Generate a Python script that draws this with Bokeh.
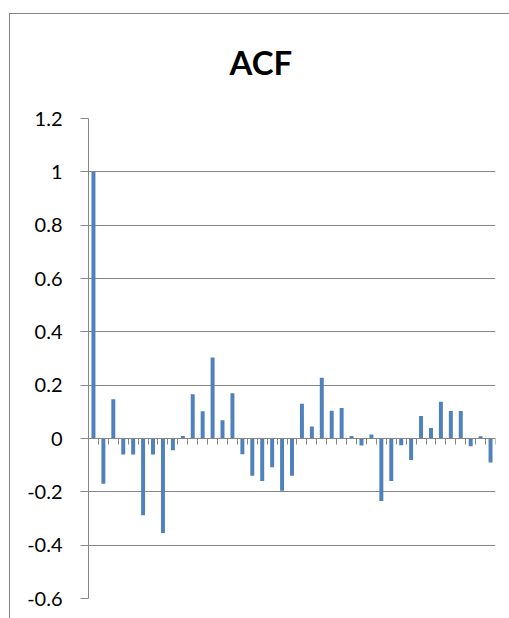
from bokeh.plotting import figure
from bokeh.models import FixedTicker, Title
from bokeh.embed import file_html
from bokeh.resources import INLINE

# ---- data ----
lags = list(range(1, 42))
acf = [1.0, -0.17, 0.147, -0.06, -0.06, -0.288, -0.06, -0.354, -0.044, 0.009,
       0.166, 0.102, 0.304, 0.068, 0.17, -0.059, -0.14, -0.159, -0.108, -0.196,
       -0.14, 0.13, 0.045, 0.228, 0.104, 0.114, 0.009, -0.026, 0.015, -0.234,
       -0.159, -0.025, -0.081, 0.084, 0.039, 0.138, 0.103, 0.103, -0.029, 0.008,
       -0.09]
y_ticks = [-0.6, -0.4, -0.2, 0, 0.2, 0.4, 0.6, 0.8, 1, 1.2]
y_tick_labels = ["-0.6", "-0.4", "-0.2", "0", "0.2", "0.4", "0.6", "0.8", "1", "1.2"]
title_text = "ACF"

GRAY = "#868686"
BLUE = "#4F81BD"

x_ticks = [i + 0.5 for i in range(0, len(lags) + 1)]

p = figure(width=509, height=618, output_backend="svg", toolbar_location=None,
           x_range=(0.5, len(lags) + 0.5), y_range=(-0.6, 1.2),
           min_border_left=88, min_border_right=14, min_border_top=118,
           min_border_bottom=20)
p.outline_line_color = None
p.background_fill_color = "white"
p.border_fill_color = None
p.styles = {
    "background": ("linear-gradient(#868686,#868686) 9px 13px / 1px 100% no-repeat, "
                   "linear-gradient(#868686,#868686) 9px 13px / 100% 1px no-repeat, white"),
}

t = Title(text=title_text, align="left", offset=141, text_font="Lato",
          text_font_size="33px", text_font_style="bold", text_color="black",
          standoff=74)
p.add_layout(t, "above")

p.vbar(x=lags, top=acf, bottom=0, width=0.4, fill_color=BLUE, line_color=None)

# y axis
p.yaxis.ticker = FixedTicker(ticks=y_ticks)
p.yaxis.major_label_overrides = dict(zip(y_ticks, y_tick_labels))
p.yaxis.axis_line_color = GRAY
p.yaxis.major_tick_line_color = GRAY
p.yaxis.major_tick_out = 8
p.yaxis.major_tick_in = 0
p.yaxis.minor_tick_line_color = None
p.yaxis.major_label_text_font = "Lato"
p.yaxis.major_label_text_font_size = "20px"
p.yaxis.major_label_text_color = "black"
p.yaxis.major_label_standoff = 18

# x axis at zero (category separators only, no labels)
p.xaxis.fixed_location = 0
p.xaxis.ticker = FixedTicker(ticks=x_ticks)
p.xaxis.major_label_overrides = {t_: "" for t_ in x_ticks}
p.xaxis.axis_line_color = GRAY
p.xaxis.major_tick_line_color = GRAY
p.xaxis.major_tick_out = 6
p.xaxis.major_tick_in = 0
p.xaxis.minor_tick_line_color = None

p.xgrid.grid_line_color = None
p.ygrid.ticker = FixedTicker(ticks=y_ticks)
p.ygrid.grid_line_color = GRAY
p.ygrid.grid_line_width = 1

open("out.html", "w").write(file_html(p, INLINE))
